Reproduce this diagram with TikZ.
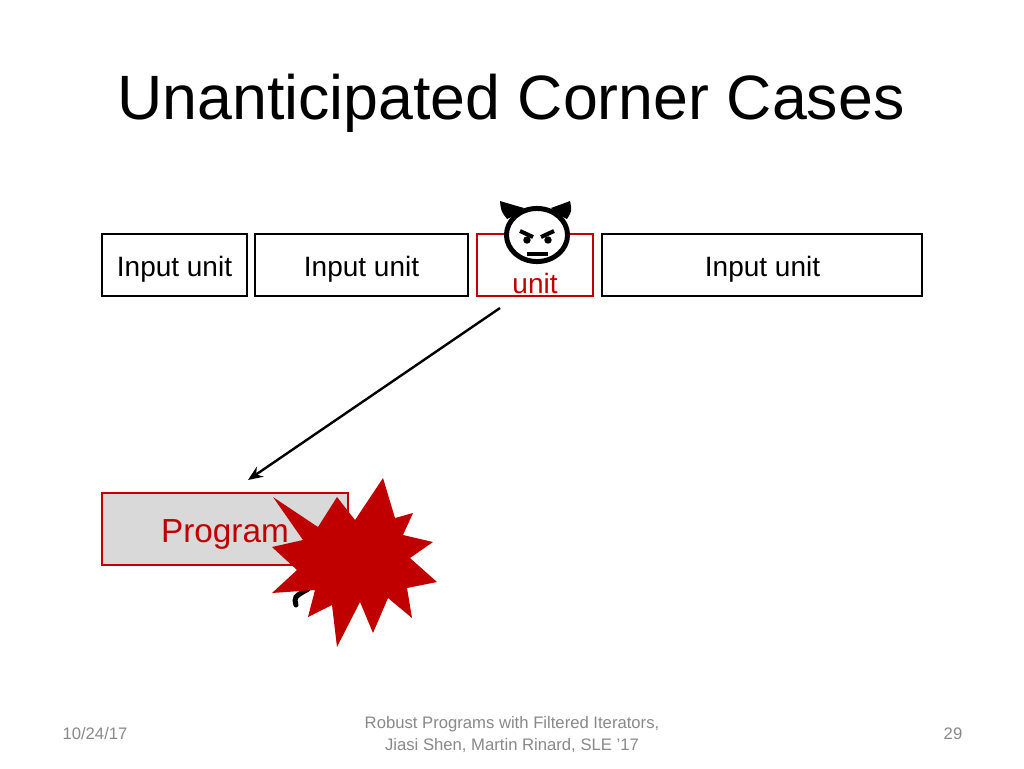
\documentclass[tikz,border=0pt]{standalone}
\usepackage{fontspec}
\setmainfont{Liberation Sans}
\usetikzlibrary{arrows.meta}
\definecolor{dred}{HTML}{C00000}
\definecolor{pgray}{HTML}{D9D9D9}
\definecolor{fgray}{HTML}{898989}
\begin{document}
\begin{tikzpicture}[x=0.75pt,y=-0.75pt,
  unitbox/.style={draw=black,line width=2pt,fill=white,inner sep=0pt,minimum height=46.5pt},
  badbox/.style={draw=dred,line width=2pt,fill=white,inner sep=0pt,minimum height=46.5pt},
  unittext/.style={anchor=base,inner sep=0pt,font=\fontsize{21}{25}\selectfont},
  progbox/.style={draw=dred,line width=1.5pt,fill=pgray,inner sep=0pt,minimum width=184.5pt,minimum height=54pt},
  foot/.style={text=fgray,font=\fontsize{12.5}{16.5}\selectfont,inner sep=0pt},
  conn/.style={line width=1.8pt,-{Stealth[length=11pt,width=9pt]}}
]
\useasboundingbox (0,0) rectangle (1024,768);
\fill[white] (0,0) rectangle (1024,768);
% title
\node[anchor=base,inner sep=0pt,font=\fontsize{47}{56}\selectfont] (title) at (511,119) {Unanticipated Corner Cases};
% input units
\node[unitbox,minimum width=108.75pt] (u1) at (174.5,265) {};
\node[unitbox,minimum width=159.75pt] (u2) at (361.5,265) {};
\node[badbox,minimum width=87pt] (u3) at (535,265) {};
\node[unitbox,minimum width=240pt] (u4) at (762,265) {};
\node[unittext] (t1) at (174.5,276.5) {Input unit};
\node[unittext] (t2) at (361.5,276.5) {Input unit};
\node[unittext] (t4) at (762.5,276.5) {Input unit};
% devil face
\fill[white] (537,235) ellipse [x radius=22.9pt,y radius=19.9pt];
\node[unittext,text=dred] (t3) at (535,293.5) {unit};
\draw[line width=3.75pt] (537,235) ellipse [x radius=22.9pt,y radius=19.9pt];
\fill (507,219) .. controls (501,211) .. (500,201) .. controls (510,204) .. (524,208) -- (518,214) -- cycle;
\fill (567,219) .. controls (572,211) .. (570,201) .. controls (562,204) .. (551,208) -- (557,214) -- cycle;
\draw[line width=3pt] (520,231) -- (533,237);
\draw[line width=3pt] (554,231) -- (541,237);
\fill (527,240) circle[radius=2.8pt];
\fill (548,240) circle[radius=2.8pt];
\draw[line width=2.3pt] (527,254) -- (548,254);
% arrow
\coordinate (as) at (500,308);
\coordinate (ae) at (248,480);
\draw[conn] (as) -- (ae);
% program box
\node[progbox] (prog) at (225,529) {};
\node[anchor=base,inner sep=0pt,text=dred,font=\fontsize{25}{30}\selectfont] (progt) at (225,542.5) {Program};
% hidden devil horn
\draw[line width=3.8pt,line cap=round] (296,605) .. controls (294,597) .. (308,589);
\draw[line width=3.5pt] (318,603) -- (326,600);
% starburst
\fill[dred] (383,478) -- (355,520) -- (337,497) -- (318,527) -- (273,497) -- (303,540) -- (272,547)
 -- (297,570) -- (272,593) -- (315,590) -- (308,617) -- (332,605) -- (337,647) -- (360,602)
 -- (373,633) -- (388,598) -- (412,618) -- (407,588) -- (437,582) -- (410,558) -- (433,542)
 -- (403,535) -- (413,513) -- (395,518) -- cycle;
% footer
\node[foot,anchor=base] (date) at (95,739) {10/24/17};
\node[foot,anchor=base] (f1) at (512,728) {Robust Programs with Filtered Iterators,};
\node[foot,anchor=base] (f2) at (512,750) {Jiasi Shen, Martin Rinard, SLE '17};
\node[foot,anchor=base] (pg) at (953,739) {29};
\end{tikzpicture}
\end{document}
